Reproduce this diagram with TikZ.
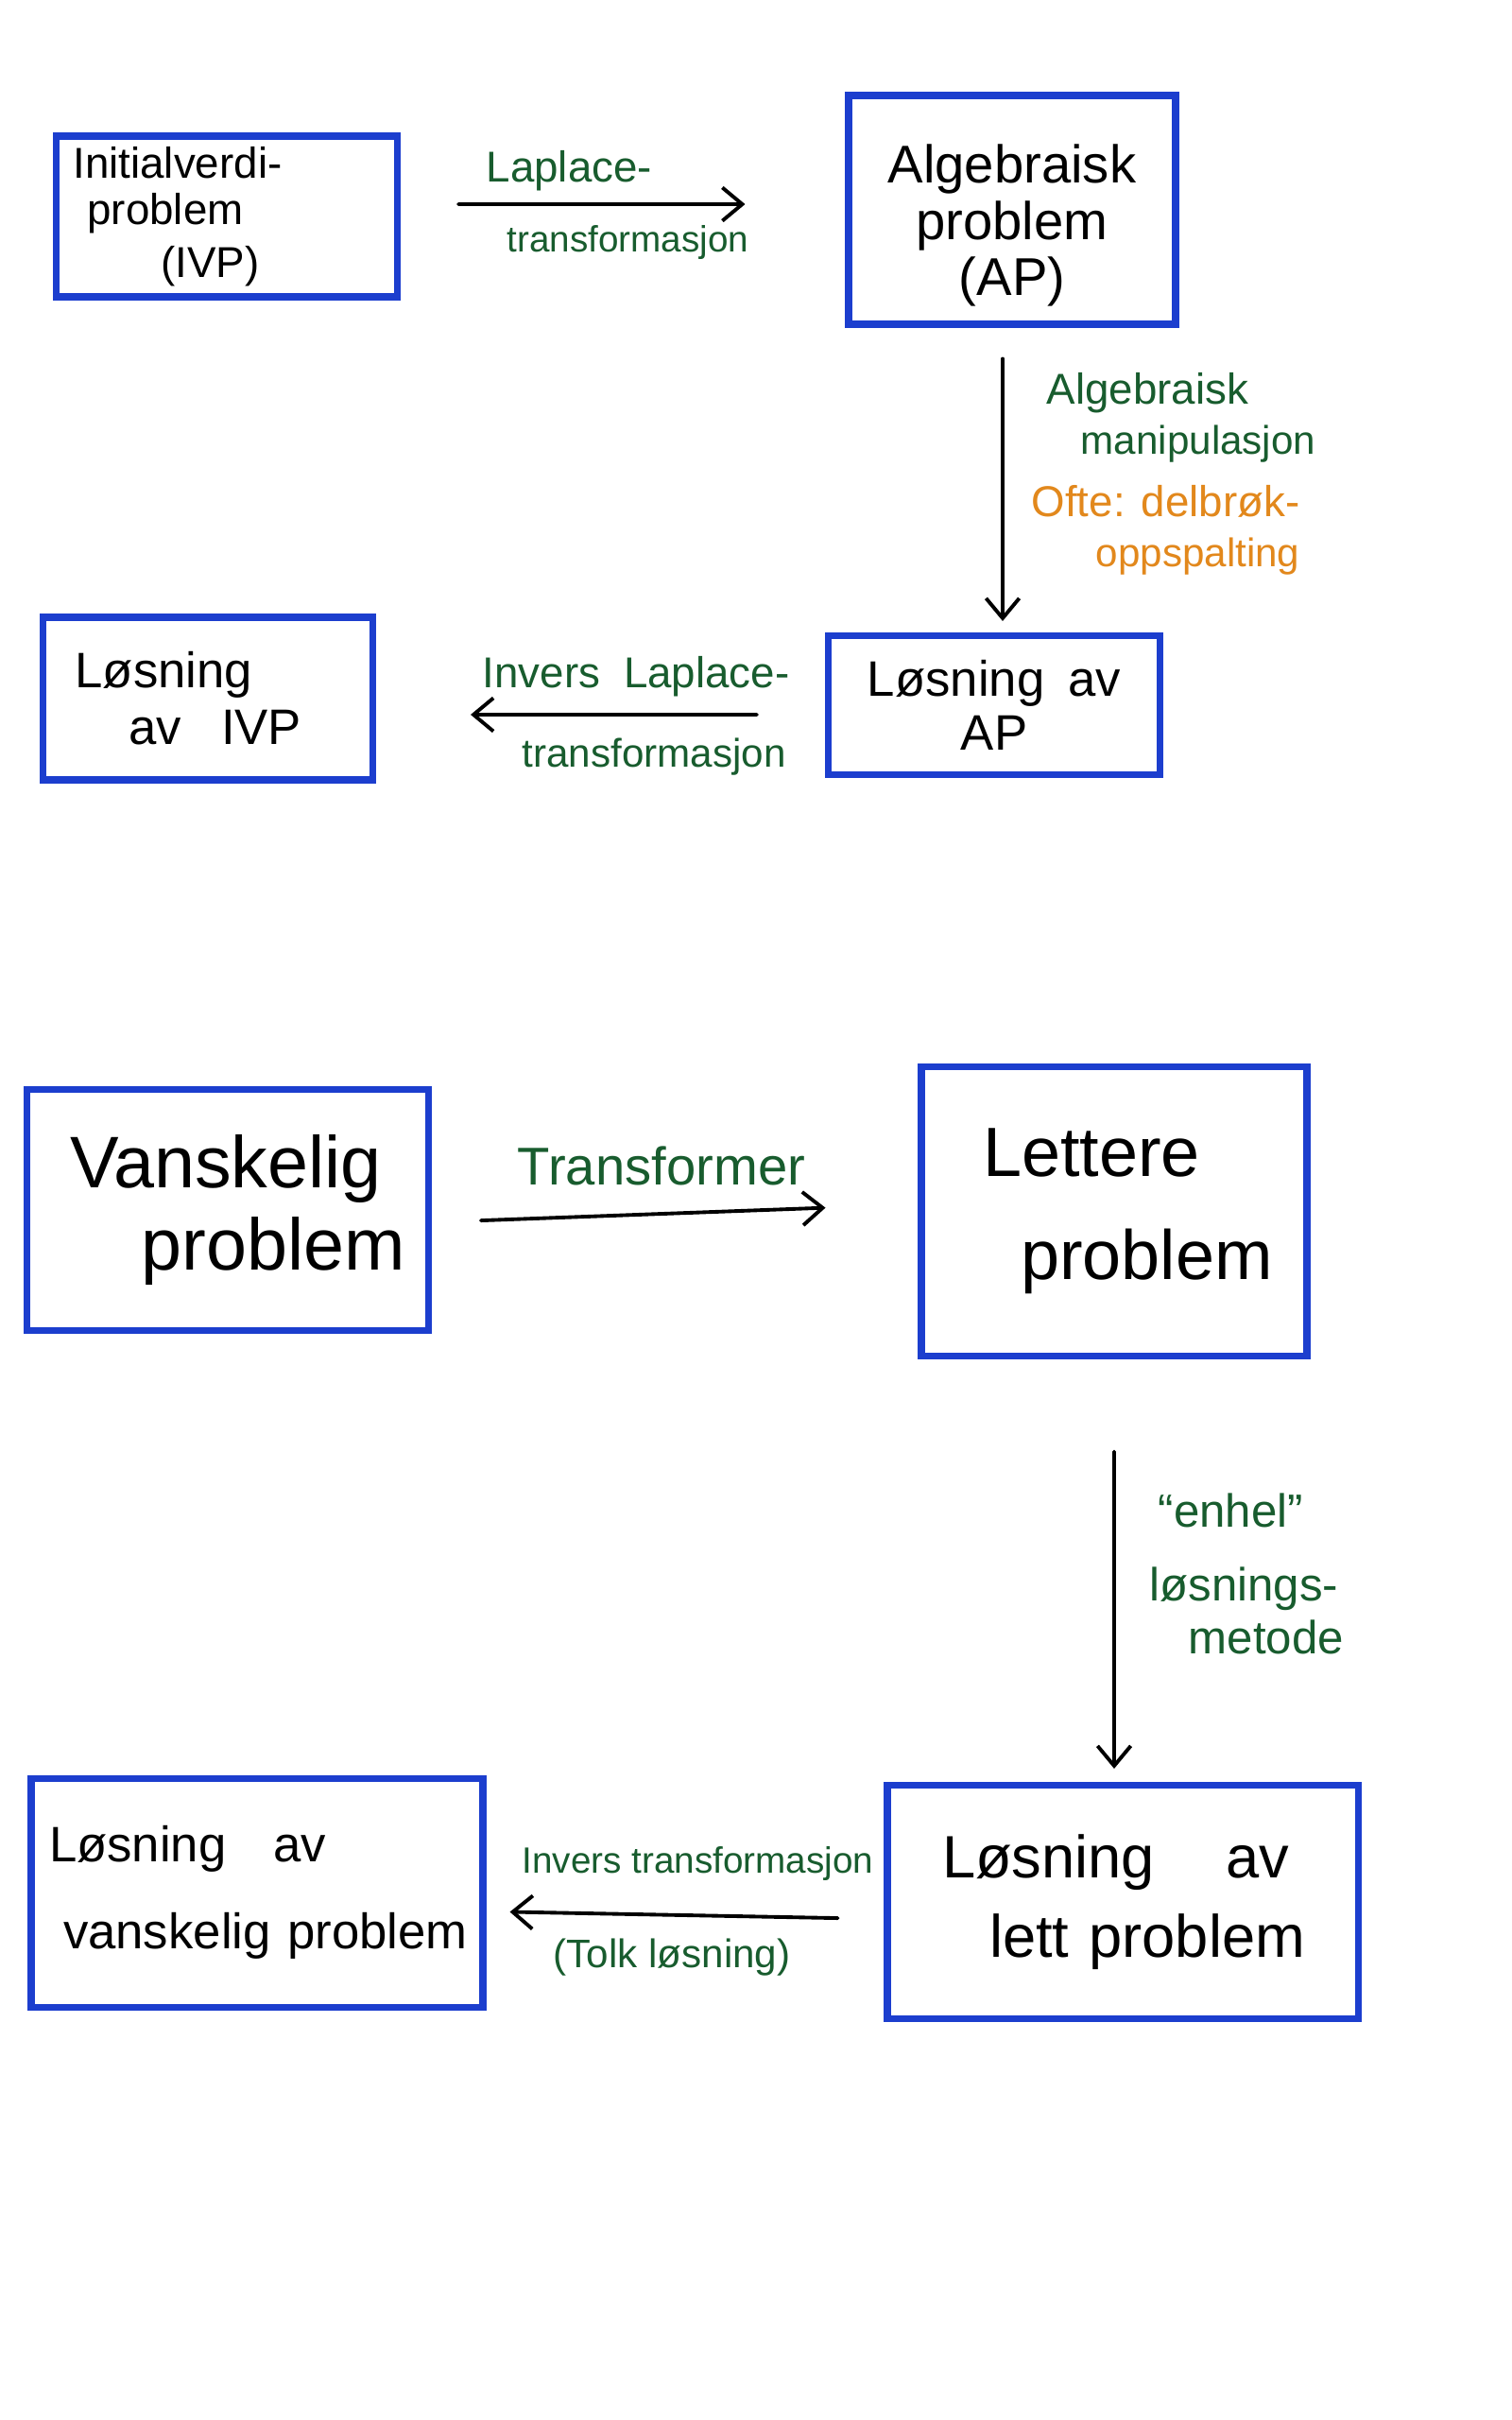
\documentclass[tikz,border=0pt]{standalone}
\usepackage{fontspec}
\setmainfont{Liberation Sans}
\usetikzlibrary{arrows.meta}

\definecolor{sketchblue}{RGB}{28,62,206}
\definecolor{sketchgreen}{RGB}{24,92,46}
\definecolor{sketchorange}{RGB}{226,136,28}

\begin{document}
\begin{tikzpicture}
% Whiteboard sketch: transform, solve, transform back
\providecommand{\sketchBoxWidth}{2pt}
\providecommand{\sketchArrowWidth}{1.1pt}
\providecommand{\fs}[2]{\fontsize{#1}{#2}\selectfont}
\tikzset{
  box/.style={draw=sketchblue, line width=\sketchBoxWidth, inner xsep=0.15cm, inner ysep=0pt, align=left},
  flow/.style={draw=black, line width=\sketchArrowWidth, line cap=round, -{Straight Barb[length=6pt,width=10pt]}},
  note/.style={text=sketchgreen, align=left, inner sep=0pt, anchor=west},
}
\begin{scope}[x=1cm, y=-1cm]
  % Page
  \fill[white] (0,0) rectangle (16,25.6);
  \useasboundingbox (0,0) rectangle (16,25.6);
  % Upper cycle: Laplace
  \node[box, text width=3.31cm, minimum height=1.70cm, font=\fs{13}{14}] (ivp) at (2.40,2.29)
    {\hspace*{0.03cm}Initialverdi-\\\hspace*{0.18cm}problem\\[2pt]\hspace*{0.96cm}(IVP)};
  \node[box, text width=3.16cm, minimum height=2.42cm, align=center, font=\fs{16}{17}] (ap) at (10.71,2.22)
    {\rule{0pt}{21pt}Algebraisk\\problem\\(AP)};
  \node[box, text width=3.19cm, minimum height=1.72cm, font=\fs{15}{17}] (liv) at (2.20,7.39)
    {\hspace*{0.19cm}Løsning\\\hspace*{0.76cm}av\hspace{0.42cm}IVP};
  \node[box, text width=3.21cm, minimum height=1.47cm, align=center, font=\fs{15}{16}] (lap) at (10.52,7.46)
    {Løsning\hspace{0.25cm}av\\AP};
  % Upper arrows
  \draw[flow, shorten <=0.61cm, shorten >=1.06cm] ([yshift=0.13cm]ivp.east) -- ([yshift=0.06cm]ap.west);
  \draw[flow, shorten <=0.33cm, shorten >=0.12cm] ([xshift=-0.10cm]ap.south) -- ([xshift=0.09cm]lap.north);
  \draw[flow, shorten <=0.72cm, shorten >=1.00cm] ([yshift=-0.10cm]lap.west) -- ([yshift=-0.17cm]liv.east);
  % Upper labels
  \node[note, font=\fs{13}{21}] (lapl) at (5.14,2.17) {Laplace-\\\hspace*{0.22cm}{\fs{11}{21}transformasjon}};
  \node[note, font=\fs{13}{15}] (alg) at (11.07,4.42) {Algebraisk\\\hspace*{0.36cm}{\fs{12}{15}manipulasjon}};
  \node[note, text=sketchorange, font=\fs{13}{15}] (often) at (10.91,5.61) {Ofte: delbrøk-\\\hspace*{0.68cm}{\fs{12}{15}oppspalting}};
  \node[note, font=\fs{13}{24}] (ilap) at (5.10,7.57) {Invers\hspace{0.25cm}Laplace-\\\hspace*{0.42cm}{\fs{12}{24}transformasjon}};
  % Lower cycle: general idea
  \node[box, text width=3.95cm, minimum height=2.55cm, font=\fs{22}{25}] (vp) at (2.41,12.80)
    {\hspace*{0.31cm}Vanskelig\\\hspace*{1.06cm}problem};
  \node[box, text width=3.78cm, minimum height=3.06cm, font=\fs{21}{31}] (lp) at (11.79,12.81)
    {\hspace*{0.50cm}Lettere\\\hspace*{0.90cm}problem};
  \node[box, text width=4.48cm, minimum height=2.42cm, font=\fs{15}{26}] (lvp) at (2.72,20.02)
    {\hspace*{0.04cm}Løsning\hspace{0.50cm}av\\\hspace*{0.19cm}vanskelig problem};
  \node[box, text width=4.68cm, minimum height=2.47cm, font=\fs{18}{24}] (llp) at (11.88,20.12)
    {\hspace*{0.43cm}Løsning\hspace{0.75cm}av\\\hspace*{0.93cm}lett problem};
  % Lower arrows
  \draw[flow, shorten <=0.52cm, shorten >=0.98cm] ([yshift=-0.13cm]vp.east) -- ([yshift=0.07cm]lp.west);
  \draw[flow, shorten <=0.98cm, shorten >=0.14cm] (lp.south) -- ([xshift=-0.09cm]llp.north);
  \draw[flow, shorten <=0.49cm, shorten >=0.25cm] ([yshift=-0.18cm]llp.west) -- ([yshift=-0.20cm]lvp.east);
  % Lower labels
  \node[note, anchor=center, font=\fs{16}{18}] (trf) at (7.00,12.33) {Transformer};
  \node[note, font=\fs{14}{16}] (enh) at (12.16,16.65) {\hspace*{0.09cm}“enhel”\\[6pt]løsnings-\\\hspace*{0.41cm}metode};
  \node[note, font=\fs{11}{13}] (itr) at (5.52,19.71) {Invers transformasjon};
  \node[note, font=\fs{12}{14}] (tolk) at (5.85,20.71) {(Tolk løsning)};
\end{scope}
\end{tikzpicture}
\end{document}
